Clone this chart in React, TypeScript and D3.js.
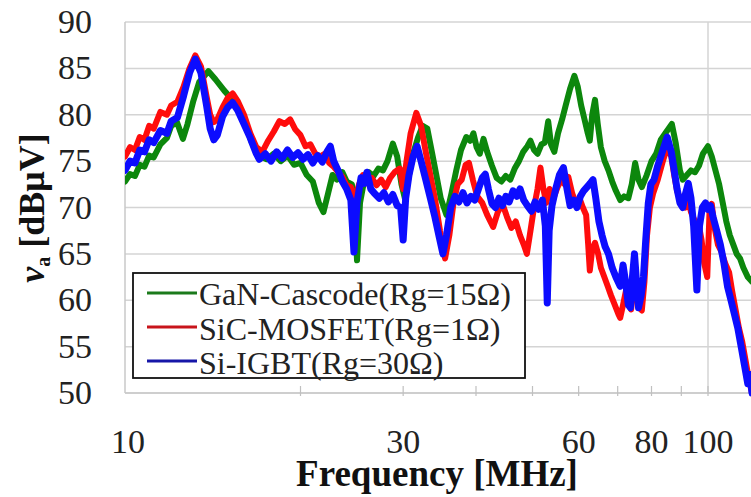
import React from "react";
import * as d3 from "d3";

const W = 751;
const H = 497;

const yTicks = [50, 55, 60, 65, 70, 75, 80, 85, 90];
const xLabelTicks = [10, 30, 60, 80, 100];
const xMinorTicks = [20, 30, 40, 50, 60, 70, 80, 90, 100];

const seriesNames = ["GaN-Cascode(Rg=15Ω)", "SiC-MOSFET(Rg=1Ω)", "Si-IGBT(Rg=30Ω)"];
const seriesColors = ["#0c870c", "#ff0c0c", "#0c0cff"];
const legendColors = ["#1b7a1b", "#c8141b", "#1616a8"];

const ganFreq = [10, 10.2, 10.4, 10.6, 10.8, 11.0, 11.2, 11.5, 11.8, 12.0, 12.28, 12.57, 12.8, 13.1, 13.4, 13.9, 14.3, 14.8, 15.3, 15.7, 16.1, 16.5, 17.0, 17.5, 18.0, 18.5, 19.0, 19.5, 20.0, 20.5, 21.0, 21.5, 21.9, 22.3, 22.7, 23.1, 23.6, 24.0, 24.5, 24.8, 25.0, 25.3, 25.7, 26.2, 26.7, 27.2, 27.7, 28.2, 28.8, 29.3, 29.8, 30.2, 30.6, 31.2, 31.8, 32.4, 33.0, 33.6, 34.2, 34.8, 35.6, 36.3, 37.0, 37.7, 38.5, 39.1, 39.6, 40.1, 40.6, 41.2, 41.8, 42.6, 43.4, 44.2, 45.0, 45.8, 46.6, 47.4, 48.2, 49.0, 49.6, 50.3, 51.0, 51.8, 52.5, 53.2, 53.8, 54.5, 55.3, 56.2, 57.0, 58.0, 59.0, 59.8, 60.6, 61.4, 62.2, 62.7, 63.3, 64.0, 64.7, 65.5, 66.5, 67.5, 68.5, 69.5, 70.7, 71.8, 73.0, 74.0, 75.0, 76.0, 77.0, 78.5, 80.0, 81.5, 83.0, 84.5, 86.7, 88.0, 89.5, 90.5, 92.0, 93.5, 95.0, 96.5, 98.0, 100, 101.5, 103, 104.5, 106, 107.5, 109, 110.5, 112, 113.5, 115, 117, 119];
const ganVal = [72.8, 73.6, 73.4, 74.6, 74.4, 75.6, 75.4, 76.8, 77.5, 78.8, 79.2, 77.4, 79.0, 81.5, 83.5, 84.7, 83.8, 82.6, 81.6, 80.8, 79.0, 77.0, 75.6, 75.2, 75.8, 75.0, 75.6, 74.6, 74.8, 73.5, 72.8, 70.5, 69.5, 71.5, 73.5, 73.0, 73.8, 72.8, 72.5, 70.0, 64.3, 70.5, 72.8, 73.8, 73.4, 74.2, 74.0, 75.0, 76.9, 75.5, 72.5, 71.0, 73.0, 75.8, 77.5, 78.8, 78.5, 76.0, 73.5, 71.0, 69.2, 71.5, 74.0, 76.2, 77.6, 77.2, 78.0, 76.5, 75.8, 77.4, 76.0, 74.5, 73.2, 72.8, 73.4, 73.0, 74.2, 75.0, 76.0, 76.6, 77.2, 76.2, 75.8, 76.8, 77.0, 79.3, 76.8, 76.0, 78.0, 79.5, 81.0, 82.8, 84.2, 83.0, 81.0, 79.5, 78.0, 77.2, 80.0, 81.6, 79.0, 76.5, 75.0, 74.0, 72.8, 71.8, 70.8, 71.2, 71.0, 72.5, 74.8, 73.0, 72.2, 73.5, 75.0, 75.8, 77.3, 78.0, 79.0, 77.0, 74.0, 73.0, 73.5, 74.0, 73.8, 74.5, 75.8, 76.6, 75.5, 74.0, 72.5, 70.5, 68.5, 67.0, 66.0, 65.0, 64.5, 63.5, 62.5, 62.0];

const sicFreq = [10, 10.2, 10.4, 10.6, 10.8, 11.0, 11.2, 11.5, 11.8, 12.0, 12.3, 12.6, 12.9, 13.2, 13.5, 13.8, 14.0, 14.2, 14.4, 14.7, 15.0, 15.3, 15.6, 16.0, 16.4, 16.8, 17.2, 17.6, 18.0, 18.4, 18.8, 19.2, 19.6, 20.0, 20.4, 20.8, 21.2, 21.6, 22.0, 22.4, 22.8, 23.2, 23.6, 24.0, 24.4, 24.8, 25.2, 25.6, 26.0, 26.5, 27.0, 27.5, 28.0, 28.5, 29.0, 29.6, 30.0, 30.4, 30.9, 31.6, 32.2, 32.8, 33.4, 34.0, 34.7, 35.4, 36.0, 36.6, 37.2, 37.8, 38.4, 38.9, 39.5, 40.2, 41.0, 41.8, 42.8, 43.6, 44.4, 45.2, 46.0, 46.8, 47.6, 48.3, 48.9, 49.6, 50.3, 51.0, 51.6, 52.2, 52.8, 53.5, 54.3, 55.2, 56.0, 56.8, 57.6, 58.5, 59.3, 60.2, 61.0, 61.8, 62.3, 62.7, 63.3, 64.0, 64.8, 65.5, 66.4, 67.3, 68.2, 69.2, 70.2, 70.7, 71.5, 72.3, 73.0, 73.8, 74.6, 75.4, 76.2, 77.0, 77.8, 78.6, 79.5, 80.5, 82.0, 83.5, 85.1, 86.5, 87.5, 88.5, 89.5, 90.5, 91.5, 92.5, 93.5, 95.0, 96.5, 97.5, 98.5, 99.7, 100.6, 101.5, 102.5, 104, 105.5, 107, 108.7, 110, 111.5, 113, 114.5, 116, 117.5, 119];
const sicVal = [75.5, 76.5, 76.2, 77.6, 77.3, 78.8, 78.5, 80.3, 80.0, 81.0, 81.4, 83.0, 85.0, 86.4, 85.2, 82.0, 80.0, 79.2, 79.5, 80.8, 81.8, 82.3, 81.5, 80.0, 78.0, 76.5, 76.0, 77.2, 78.2, 79.3, 79.0, 79.5, 78.4, 77.8, 76.6, 76.8, 75.8, 75.5, 75.8, 74.8, 74.4, 73.8, 73.3, 72.4, 72.2, 71.0, 72.5, 73.5, 72.6, 73.2, 72.4, 73.0, 72.2, 73.2, 73.8, 74.2, 72.0, 75.0, 78.0, 80.2, 78.8, 76.0, 73.5, 71.0, 67.5, 64.5, 67.0, 70.5, 72.5, 73.0, 74.6, 74.8, 73.0, 71.2, 70.5, 69.2, 67.9, 69.5, 70.4, 69.0, 67.8, 68.5, 67.0, 66.0, 65.0, 67.5, 70.0, 72.0, 74.3, 72.0, 70.5, 72.0, 71.0, 72.2, 73.0, 72.5, 73.3, 71.5, 70.5, 71.0, 70.0, 69.2, 66.0, 63.2, 65.5, 66.2, 65.0, 63.5, 62.5, 61.5, 60.5, 59.5, 58.5, 58.1, 59.5, 61.0, 59.8, 59.0, 61.5, 60.5, 59.2, 58.9, 62.0, 67.0, 70.0, 71.5, 73.0, 74.8, 76.5, 75.5, 73.5, 71.8, 71.0, 70.5, 70.0, 70.8, 69.5, 68.5, 68.0, 66.5, 64.0, 62.5, 69.5, 70.4, 68.0, 66.0, 65.2, 64.0, 63.0, 61.0, 59.0, 57.0, 55.5, 53.5, 51.5, 50.0];

const siFreq = [10, 10.2, 10.4, 10.6, 10.8, 11.0, 11.2, 11.5, 11.8, 12.0, 12.3, 12.6, 12.9, 13.2, 13.5, 13.8, 14.0, 14.2, 14.4, 14.7, 15.0, 15.3, 15.6, 16.0, 16.4, 16.8, 17.0, 17.4, 17.8, 18.2, 18.6, 19.0, 19.4, 19.8, 20.2, 20.6, 21.0, 21.4, 21.8, 22.2, 22.5, 22.8, 23.2, 23.6, 24.0, 24.4, 24.7, 25.0, 25.4, 25.7, 26.0, 26.4, 26.8, 27.3, 27.8, 28.3, 28.8, 29.3, 29.7, 30.0, 30.3, 30.7, 31.2, 31.7, 32.2, 32.8, 33.4, 34.0, 34.6, 35.1, 35.6, 36.2, 36.8, 37.4, 38.0, 38.6, 39.2, 39.8, 40.4, 41.0, 41.5, 42.0, 42.6, 43.2, 43.8, 44.4, 45.0, 45.6, 46.3, 47.0, 47.6, 48.3, 49.0, 49.8, 50.5, 51.2, 52.0, 52.6, 53.0, 53.4, 54.0, 54.8, 55.6, 56.5, 57.3, 58.0, 58.8, 59.6, 60.4, 61.2, 62.0, 62.8, 63.5, 64.2, 65.0, 65.8, 66.6, 67.5, 68.5, 69.5, 70.7, 71.5, 72.2, 73.0, 73.6, 74.2, 74.8, 75.4, 76.0, 76.8, 77.5, 78.2, 79.0, 79.8, 80.8, 82.0, 83.5, 85.1, 86.5, 87.5, 88.5, 89.5, 90.5, 91.5, 92.5, 93.5, 94.5, 95.7, 96.7, 97.8, 99.0, 100, 101, 102, 103.5, 105, 106.5, 108, 109.5, 111, 112.5, 114, 115.5, 117, 118, 119];
const siVal = [74.0, 75.0, 74.8, 76.2, 76.0, 77.3, 77.0, 78.3, 78.0, 79.3, 79.7, 82.0, 84.5, 86.0, 84.5, 81.0, 78.5, 77.3, 77.8, 79.8, 80.8, 81.3, 80.5, 79.0, 77.5, 75.8, 75.2, 75.8, 75.0, 76.0, 75.3, 76.2, 75.4, 75.9, 75.2, 75.7, 74.8, 75.6, 74.9, 76.0, 76.6, 75.0, 74.0, 72.8, 72.0, 70.8, 65.2, 70.5, 73.2, 72.6, 73.8, 72.0, 71.5, 71.0, 71.6, 70.6, 71.4, 70.2, 70.0, 66.5, 71.0, 73.5, 75.5, 76.6, 75.0, 73.0, 71.0, 69.0, 66.8, 65.0, 67.0, 70.0, 71.2, 70.6, 71.6, 70.5, 71.2, 70.8, 72.0, 73.2, 73.6, 72.0, 70.4, 70.0, 71.0, 70.2, 71.2, 70.6, 71.8, 71.2, 72.0, 70.8, 70.2, 69.6, 70.6, 69.8, 70.8, 68.0, 59.7, 67.5, 70.2, 72.0, 73.5, 74.3, 72.0, 70.2, 70.8, 70.0, 71.2, 71.8, 72.2, 72.6, 73.0, 71.0, 68.5, 67.0, 65.8, 65.0, 63.5, 62.5, 61.5, 63.8, 62.0, 59.5, 59.2, 62.5, 65.0, 62.0, 59.2, 60.5, 62.5, 66.5, 70.5, 72.5, 73.0, 74.5, 76.0, 77.6, 76.0, 74.0, 72.0, 70.5, 70.0, 71.5, 72.6, 71.0, 68.0, 61.1, 68.0, 70.0, 70.5, 69.8, 70.2, 69.0, 67.5, 66.0, 64.0, 61.5, 60.0, 58.5, 57.0, 55.0, 53.0, 51.0, 52.0, 50.0];

const seriesFreq = [ganFreq, sicFreq, siFreq];
const seriesVal = [ganVal, sicVal, siVal];
const seriesWidth = [6, 6, 7];

const x = d3.scaleLog().domain([10, 100]).range([125, 708]);
const y = d3.scaleLinear().domain([50, 90]).range([393, 22]);

const plotLeft = 125;
const plotRight = 751;
const plotTop = 22;
const plotBottom = 393;

const serif = "Liberation Serif";

export default function App() {
  const line = d3
    .line<[number, number]>()
    .x((d) => x(d[0]))
    .y((d) => y(d[1]));

  return (
    <svg width={W} height={H} style={{ position: "absolute", left: 0, top: 0, background: "#fff" }}>
      <defs>
        <clipPath id="plotClip">
          <rect x={plotLeft} y={0} width={plotRight - plotLeft} height={plotBottom + 4} />
        </clipPath>
      </defs>
      <rect x={0} y={0} width={W} height={H} fill="#fff" />
      {yTicks.map((t) => (
        <line key={t} x1={plotLeft} x2={plotRight} y1={y(t)} y2={y(t)} stroke="#d4d4d4" strokeWidth={1.5} />
      ))}
      <line x1={x(100)} x2={x(100)} y1={plotTop} y2={plotBottom} stroke="#d4d4d4" strokeWidth={1.5} />
      <line x1={plotLeft} x2={plotLeft} y1={plotTop} y2={plotBottom} stroke="#c8c8c8" strokeWidth={1.5} />
      <line x1={plotLeft} x2={plotRight} y1={plotBottom} y2={plotBottom} stroke="#c8c8c8" strokeWidth={1.5} />
      {xMinorTicks.map((t) => (
        <line key={t} x1={x(t)} x2={x(t)} y1={plotBottom - 7} y2={plotBottom + 3} stroke="#c0c0c0" strokeWidth={1.2} />
      ))}
      <g clipPath="url(#plotClip)">
        {seriesFreq.map((fs, i) => {
          const pts: [number, number][] = fs.map((f, j) => [f, seriesVal[i][j]]);
          return (
            <path
              key={i}
              d={line(pts) || ""}
              fill="none"
              stroke={seriesColors[i]}
              strokeWidth={seriesWidth[i]}
              strokeLinejoin="round"
              strokeLinecap="round"
            />
          );
        })}
      </g>
      {yTicks.map((t) => (
        <text key={t} x={92} y={y(t) + 11} textAnchor="end" fontSize={34} fill="#222" fontFamily={serif}>
          {t}
        </text>
      ))}
      {xLabelTicks.map((t) => (
        <text key={t} x={x(t) + (t === 10 ? 3 : 0)} y={453} textAnchor="middle" fontSize={34} fill="#222" fontFamily={serif}>
          {t}
        </text>
      ))}
      <text x={437} y={486} textAnchor="middle" fontSize={37} fontWeight="bold" fill="#111" fontFamily={serif}>
        Frequency [MHz]
      </text>
      <text transform="translate(44,208) rotate(-90)" textAnchor="middle" fontSize={36} fontWeight="bold" fill="#111" fontFamily={serif}>
        <tspan fontStyle="italic">v</tspan>
        <tspan fontSize={20} dy={6}>a</tspan>
        <tspan dy={-6}> [dBμV]</tspan>
      </text>
      <rect x={133} y={273} width={392} height={105} fill="#fff" stroke="#111" strokeWidth={1.8} />
      {seriesNames.map((n, i) => (
        <g key={n}>
          <line x1={147} x2={197} y1={293 + i * 34} y2={293 + i * 34} stroke={legendColors[i]} strokeWidth={3} />
          <text x={199} y={305 + i * 34.5} fontSize={32} fill="#222" fontFamily={serif}>
            {n}
          </text>
        </g>
      ))}
    </svg>
  );
}
